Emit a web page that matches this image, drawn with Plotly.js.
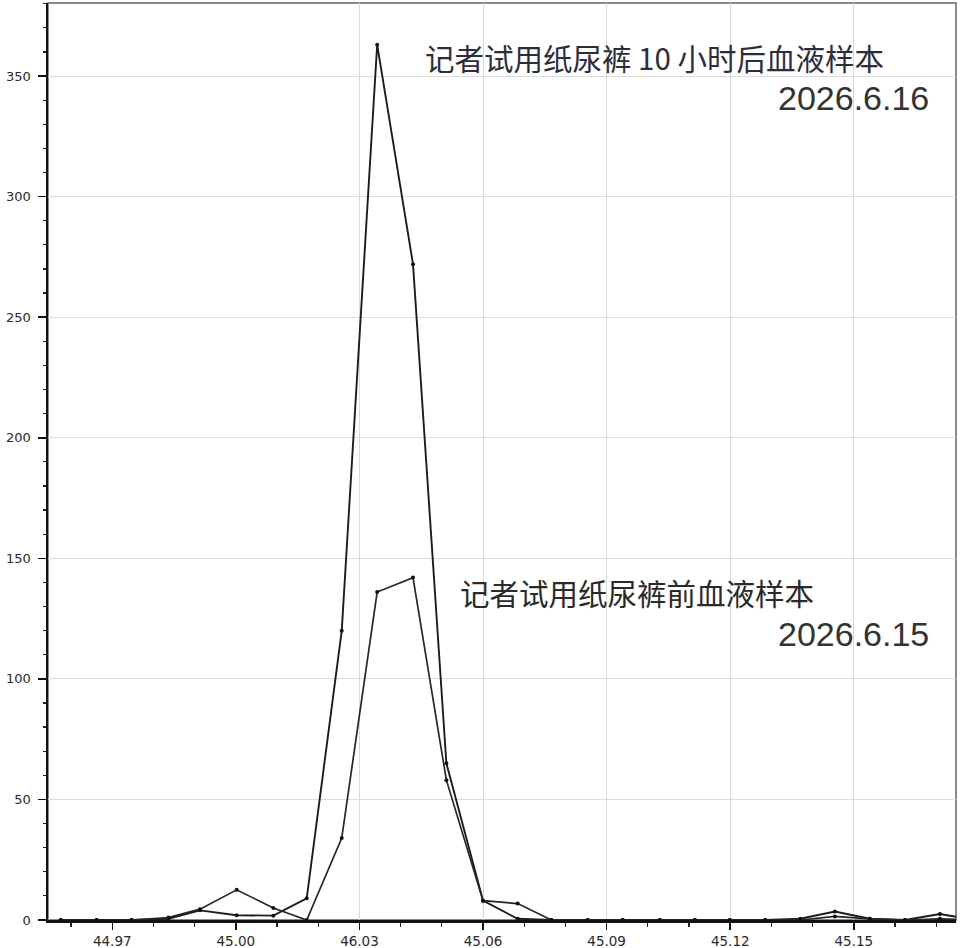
<!DOCTYPE html>
<html>
<head>
<meta charset="utf-8">
<script src="https://cdn.plot.ly/plotly-3.0.1.min.js"></script>
<style>
  html, body { margin: 0; padding: 0; background: #ffffff; }
  #chart { width: 960px; height: 948px; }
</style>
</head>
<body>
<div id="chart"></div>
<script>
// Retention time (min) of each scan point
const retentionTime = [44.9575, 44.9662, 44.9747, 44.9836, 44.9913, 45.0002, 45.0091, 45.0172, 45.0257,
  45.0343, 45.0430, 45.0511, 45.0600, 45.0684, 45.0766, 45.0854, 45.0939, 45.1029, 45.1114, 45.1199,
  45.1285, 45.1370, 45.1454, 45.1539, 45.1624, 45.1709, 45.1794];

// Sample taken 10 h after wearing the diaper (2026.6.16)
const after10h = [0, 0, 0, 0.5, 4, 2, 1.8, 9, 120, 363, 272, 65, 8, 0.5, 0, 0, 0, 0, 0, 0,
  0, 0.5, 3.5, 0.5, 0, 2.5, 0];

// Sample taken before wearing the diaper (2026.6.15)
const before = [0, 0, 0, 1, 4.5, 12.5, 5, 0, 34, 136, 142, 58, 8, 6.8, 0, 0, 0, 0, 0, 0,
  0, 0, 1.5, 0.5, 0, 0.5, 0];

// Axis tick labels as printed in the picture
const xTickVals = [44.97, 45.00, 45.03, 45.06, 45.09, 45.12, 45.15];
const xTickText = ['44.97', '45.00', '46.03', '45.06', '45.09', '45.12', '45.15'];
const xGridVals = [45.03, 45.06, 45.09, 45.12, 45.15];
const yTickVals = [0, 50, 100, 150, 200, 250, 300, 350];

// Annotation texts
const labelAfter = '记者试用纸尿裤 10 小时后血液样本';
const dateAfter = '2026.6.16';
const labelBefore = '记者试用纸尿裤前血液样本';
const dateBefore = '2026.6.15';

const xRange = [44.9544, 45.1748];
const yRange = [0, 380.3];

const traces = [
  {
    x: retentionTime, y: after10h, type: 'scatter', mode: 'lines+markers',
    xaxis: 'x', yaxis: 'y',
    line: { color: '#1c1c1c', width: 1.9 },
    marker: { color: '#111111', size: 4 },
    name: dateAfter, showlegend: false, hoverinfo: 'skip'
  },
  {
    x: retentionTime, y: before, type: 'scatter', mode: 'lines+markers',
    xaxis: 'x2', yaxis: 'y',
    line: { color: '#262626', width: 1.7 },
    marker: { color: '#111111', size: 4 },
    name: dateBefore, showlegend: false, hoverinfo: 'skip'
  }
];

const tickFont = { family: 'DejaVu Sans, sans-serif', size: 13, color: '#2a2a2a' };
const cjkFont = 'Noto Sans CJK SC, sans-serif';
const dateFont = 'Liberation Sans, Arial, sans-serif';

const layout = {
  width: 960, height: 948,
  margin: { l: 48, r: 4, t: 3, b: 28, pad: 0 },
  paper_bgcolor: '#ffffff', plot_bgcolor: '#ffffff',
  showlegend: false,
  xaxis: {
    range: xRange, fixedrange: true,
    tickmode: 'array', tickvals: xTickVals, ticktext: xTickText,
    ticks: 'outside', ticklen: 7, tickwidth: 1.5, tickcolor: '#111',
    tickfont: { family: 'DejaVu Sans, sans-serif', size: 13.5, color: '#2a2a2a' },
    showgrid: false, zeroline: false,
    showline: true, linecolor: '#111', linewidth: 2.5,
    minor: { tickmode: 'linear', tick0: 44.96, dtick: 0.01, ticks: 'outside', ticklen: 4, tickwidth: 1.2, tickcolor: '#222', showgrid: false }
  },
  xaxis2: {
    matches: 'x', overlaying: 'x', anchor: 'y', side: 'bottom',
    range: xRange, fixedrange: true,
    tickmode: 'array', tickvals: xGridVals,
    showticklabels: false, ticks: '',
    showgrid: true, gridcolor: '#d9d9d9', gridwidth: 1,
    zeroline: false, showline: false
  },
  yaxis: {
    range: yRange, fixedrange: true,
    tickmode: 'array', tickvals: yTickVals,
    ticks: 'outside', ticklen: 8, tickwidth: 1.5, tickcolor: '#111',
    tickfont: tickFont, ticklabelstandoff: 4,
    showgrid: true, gridcolor: '#dcdcdc', gridwidth: 1,
    zeroline: false,
    showline: true, linecolor: '#111', linewidth: 2.5,
    minor: { tickmode: 'linear', tick0: 0, dtick: 10, ticks: 'outside', ticklen: 3, tickwidth: 1.2, tickcolor: '#222', showgrid: false }
  },
  shapes: [
    { type: 'rect', xref: 'paper', yref: 'paper', x0: 0, x1: 1, y0: 0, y1: 1,
      line: { color: '#8a8a8a', width: 2 }, layer: 'below' }
  ],
  annotations: [
    { xref: 'paper', yref: 'paper', x: 0.4130, y: 0.9411, xanchor: 'left', yanchor: 'middle',
      text: labelAfter, showarrow: false, font: { family: cjkFont, size: 29.5, color: '#2c2d3c' } },
    { xref: 'paper', yref: 'paper', x: 0.9725, y: 0.8964, xanchor: 'right', yanchor: 'middle',
      text: dateAfter, showarrow: false, font: { family: dateFont, size: 34, color: '#333333' } },
    { xref: 'paper', yref: 'paper', x: 0.4515, y: 0.3577, xanchor: 'left', yanchor: 'middle',
      text: labelBefore, showarrow: false, font: { family: cjkFont, size: 29.5, color: '#2a2a2a' } },
    { xref: 'paper', yref: 'paper', x: 0.9725, y: 0.3119, xanchor: 'right', yanchor: 'middle',
      text: dateBefore, showarrow: false, font: { family: dateFont, size: 34, color: '#333333' } }
  ]
};

Plotly.newPlot('chart', traces, layout, { staticPlot: true, displayModeBar: false });
</script>
</body>
</html>
